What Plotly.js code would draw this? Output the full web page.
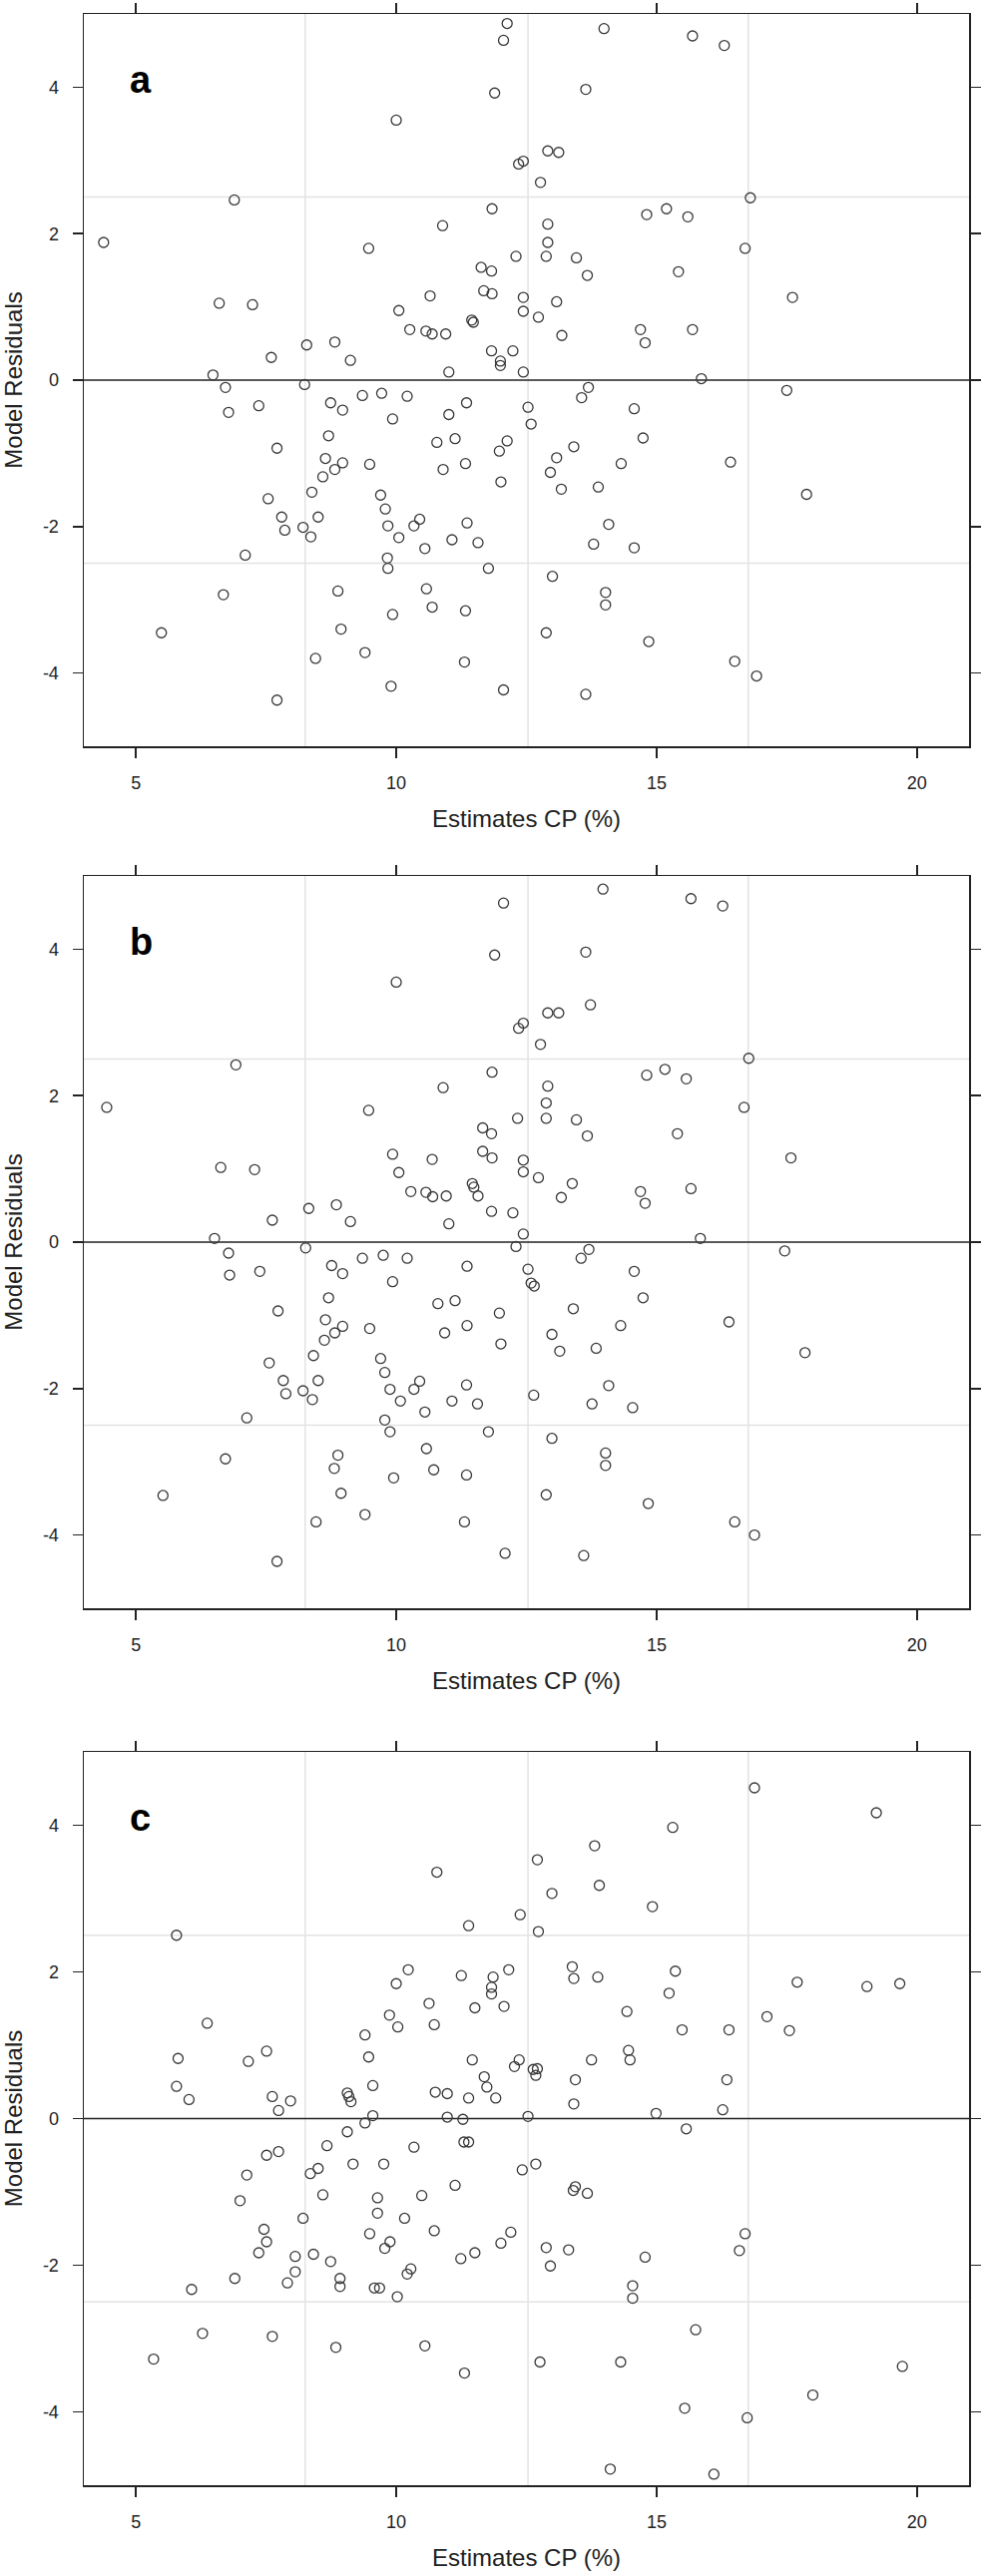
<!DOCTYPE html>
<html><head><meta charset="utf-8">
<script src="https://cdn.plot.ly/plotly-3.0.1.min.js"></script>
<style>html,body{margin:0;padding:0;background:#fff}</style>
</head><body>
<div id="chart" style="width:986px;height:2582px"></div>
<script>
// ---- data ----
const panelLetters = ['a', 'b', 'c'];
const xTitle = 'Estimates CP (%)';
const yTitle = 'Model Residuals';
const xTickVals = [5, 10, 15, 20];
const yTickVals = [-4, -2, 0, 2, 4];
const yTickText = ['-4', '-2', '0', '2', '4'];
const gridX = [8.25, 12.53, 16.76];
const gridY = [-2.5, 2.5];
const refLineY = 0;

// [estimate CP %, residual]
const panelA = [
[4.38,1.88],[6.89,2.46],[6.60,1.05],[7.24,1.03],[7.60,0.31],[6.48,0.07],[6.72,-0.10],[6.78,-0.44],[7.36,-0.35],[8.28,0.48],
[8.24,-0.06],[8.82,0.52],[9.12,0.27],[8.74,-0.31],[8.97,-0.41],[9.35,-0.21],[9.72,-0.18],[9.93,-0.53],[10.21,-0.22],[9.47,1.80],
[10.0,3.55],[10.05,0.95],[10.26,0.69],[10.57,0.67],[10.69,0.63],[10.95,0.63],[10.65,1.15],[10.89,2.11],[11.01,0.11],[11.01,-0.47],
[11.35,-0.31],[11.45,0.82],[11.48,0.79],[11.63,1.54],[11.68,1.22],
[12.13,4.87],[12.06,4.64],[11.89,3.92],[13.99,4.80],[15.69,4.70],[16.30,4.57],[13.64,3.97],[12.91,3.13],[13.12,3.11],[12.35,2.95],
[12.44,2.99],[12.77,2.70],[11.84,2.34],[14.81,2.26],[15.19,2.34],[15.60,2.23],[16.80,2.49],[12.91,2.13],[12.91,1.88],[12.30,1.69],
[12.88,1.69],[13.46,1.67],[16.70,1.80],[11.83,1.49],[13.67,1.43],[15.42,1.48],[11.84,1.18],[12.44,1.13],[12.44,0.94],[13.08,1.07],
[12.73,0.86],[17.61,1.13],[13.18,0.61],[14.69,0.69],[14.78,0.51],[15.69,0.69],[11.83,0.40],[12.24,0.40],[12.0,0.26],[12.0,0.20],
[12.44,0.11],[15.86,0.02],[13.69,-0.10],[13.56,-0.24],[17.50,-0.14],[12.53,-0.37],[14.57,-0.39],[12.59,-0.60],
[12.13,-0.83],[11.98,-0.97],[12.01,-1.39],[13.41,-0.91],[13.08,-1.06],[12.96,-1.26],[13.17,-1.49],[13.88,-1.46],[14.32,-1.14],[14.74,-0.79],
[16.42,-1.12],[17.88,-1.56],[14.08,-1.97],[13.79,-2.24],[14.57,-2.29],[13.00,-2.68],[14.02,-2.90],[14.02,-3.07],[12.88,-3.45],[14.85,-3.57],
[16.50,-3.84],[16.92,-4.04],[12.06,-4.23],[13.64,-4.29],
[7.71,-0.93],[8.70,-0.76],[8.64,-1.07],[8.97,-1.13],[8.82,-1.22],[8.59,-1.32],[9.49,-1.15],[8.38,-1.53],[7.54,-1.62],[7.80,-1.87],
[8.50,-1.87],[7.86,-2.05],[8.21,-2.01],[8.36,-2.14],[7.10,-2.39],[9.70,-1.57],[9.79,-1.76],[9.84,-1.99],[10.05,-2.15],[10.34,-1.99],
[10.45,-1.90],[10.55,-2.30],[9.83,-2.43],[9.84,-2.57],[10.78,-0.85],[11.13,-0.80],[10.90,-1.22],[11.33,-1.14],[11.36,-1.95],[11.07,-2.18],
[11.57,-2.22],[11.77,-2.57],[8.88,-2.88],[10.58,-2.85],[10.69,-3.10],[9.93,-3.20],[11.33,-3.15],[6.68,-2.93],[5.49,-3.45],[8.94,-3.40],
[9.40,-3.72],[8.45,-3.80],[11.31,-3.85],[9.90,-4.18],[7.71,-4.37]
];

const panelB = [
[4.44,1.84],[6.92,2.42],[6.63,1.02],[7.28,0.99],[7.62,0.30],[6.51,0.05],[6.78,-0.15],[6.80,-0.45],[7.38,-0.40],[8.32,0.46],
[8.26,-0.08],[8.85,0.51],[9.12,0.28],[8.76,-0.32],[8.97,-0.43],[9.35,-0.22],[9.75,-0.18],[9.93,-0.54],[10.21,-0.22],[9.47,1.80],
[10.0,3.55],[9.93,1.20],[10.05,0.95],[10.28,0.69],[10.57,0.68],[10.70,0.62],[10.96,0.63],[10.69,1.13],[10.90,2.11],[11.01,0.25],
[11.36,-0.33],[11.46,0.80],[11.49,0.75],[11.57,0.63],[11.66,1.56],[11.66,1.24],
[12.06,4.63],[11.89,3.92],[13.97,4.82],[15.66,4.69],[16.27,4.59],[13.64,3.96],[13.73,3.24],[12.91,3.13],[13.12,3.13],[12.35,2.92],
[12.44,2.99],[12.77,2.70],[11.84,2.32],[14.81,2.28],[15.16,2.36],[15.57,2.23],[16.77,2.51],[12.91,2.13],[12.88,1.90],[12.33,1.69],
[12.88,1.69],[13.46,1.67],[16.68,1.84],[11.83,1.48],[13.67,1.45],[15.40,1.48],[11.84,1.15],[12.44,1.12],[12.44,0.96],[12.73,0.88],
[13.38,0.80],[17.58,1.15],[13.17,0.61],[14.69,0.69],[14.78,0.53],[15.66,0.73],[11.83,0.42],[12.24,0.40],[12.44,0.11],[12.30,-0.06],
[15.84,0.05],[13.70,-0.10],[13.55,-0.22],[17.46,-0.12],[12.53,-0.37],[14.57,-0.40],[12.59,-0.56],[12.65,-0.60],
[14.74,-0.76],[13.40,-0.91],[11.98,-0.97],[14.31,-1.14],[16.39,-1.09],[12.99,-1.26],[12.01,-1.39],[13.14,-1.49],[13.84,-1.45],[17.85,-1.51],
[14.08,-1.96],[12.64,-2.09],[13.76,-2.21],[14.54,-2.26],[12.99,-2.68],[14.02,-2.88],[14.02,-3.05],[12.88,-3.45],[14.84,-3.57],[16.50,-3.82],
[16.88,-4.00],[12.09,-4.25],[13.60,-4.28],
[7.73,-0.94],[8.70,-0.76],[8.64,-1.06],[8.97,-1.15],[8.82,-1.24],[8.62,-1.34],[9.49,-1.18],[8.41,-1.55],[7.56,-1.65],[7.83,-1.89],
[8.50,-1.89],[7.88,-2.07],[8.21,-2.03],[8.39,-2.15],[7.13,-2.40],[9.70,-1.59],[9.78,-1.78],[9.88,-2.01],[10.08,-2.17],[10.34,-2.01],
[10.45,-1.90],[10.55,-2.32],[9.78,-2.43],[9.88,-2.59],[10.80,-0.84],[11.13,-0.80],[10.93,-1.24],[11.36,-1.14],[11.35,-1.95],[11.07,-2.17],
[11.56,-2.21],[11.77,-2.59],[8.88,-2.91],[8.81,-3.09],[10.58,-2.82],[10.72,-3.11],[9.95,-3.22],[11.35,-3.18],[6.72,-2.96],[5.52,-3.46],
[8.94,-3.43],[9.40,-3.72],[8.46,-3.82],[11.31,-3.82],[7.71,-4.36]
];

const panelC = [
[5.78,2.50],[6.37,1.30],[5.81,0.82],[5.78,0.44],[6.02,0.26],[7.16,0.78],[7.51,0.92],[7.62,0.30],[7.97,0.24],[7.74,0.11],
[9.06,0.35],[9.09,0.30],[9.13,0.23],[9.40,1.14],[9.47,0.84],[9.55,0.45],[9.55,0.04],[9.40,-0.06],[9.06,-0.18],[9.87,1.41],
[10.03,1.25],[10.0,1.84],[10.23,2.03],[10.78,3.36],[10.63,1.57],[10.73,1.28],[10.75,0.36],[10.98,0.34],[10.98,0.02],[11.28,-0.01],
[11.25,1.95],[11.39,2.63],[11.51,1.51],[11.46,0.80],[11.39,0.28],[11.69,0.57],[11.74,0.43],[11.91,0.28],[11.86,1.93],[11.83,1.79],
[11.83,1.70],[12.07,1.53],[12.16,2.03],[12.38,2.78],[12.36,0.80],[12.27,0.71],[12.53,0.03],
[16.88,4.51],[19.22,4.17],[15.31,3.97],[13.81,3.72],[12.71,3.53],[13.90,3.18],[12.99,3.07],[14.92,2.89],[12.73,2.55],[13.38,2.07],
[13.41,1.91],[13.87,1.93],[15.36,2.01],[15.24,1.71],[14.43,1.46],[17.70,1.86],[19.04,1.80],[19.67,1.84],[17.12,1.39],[15.49,1.21],
[16.39,1.21],[17.55,1.20],[14.46,0.93],[14.49,0.80],[13.75,0.80],[12.63,0.67],[12.71,0.68],[12.68,0.59],[13.44,0.53],[16.35,0.53],
[13.41,0.20],[14.99,0.07],[16.27,0.12],[15.57,-0.14],
[8.67,-0.37],[10.34,-0.39],[11.30,-0.32],[11.39,-0.32],[7.51,-0.50],[7.74,-0.45],[7.13,-0.77],[7.00,-1.12],[8.35,-0.75],[8.50,-0.68],
[9.17,-0.62],[9.76,-0.62],[8.59,-1.04],[9.64,-1.08],[9.64,-1.29],[10.49,-1.05],[11.13,-0.91],[12.42,-0.70],[8.21,-1.36],[7.46,-1.51],
[7.51,-1.68],[7.36,-1.83],[8.06,-1.88],[8.06,-2.09],[7.91,-2.24],[8.41,-1.85],[8.74,-1.95],[8.92,-2.18],[8.92,-2.29],[9.49,-1.57],
[9.88,-1.68],[9.78,-1.77],[10.16,-1.36],[10.73,-1.53],[10.28,-2.05],[10.21,-2.12],[9.58,-2.31],[9.68,-2.31],[10.02,-2.43],[11.24,-1.91],
[11.51,-1.83],[12.01,-1.70],[12.20,-1.55],[6.90,-2.18],[6.07,-2.33],[6.28,-2.93],[5.34,-3.28],[7.62,-2.97],[8.84,-3.12],[10.55,-3.10],
[11.31,-3.47],
[12.68,-0.62],[13.44,-0.93],[13.40,-0.98],[13.67,-1.02],[12.88,-1.76],[13.31,-1.79],[12.96,-2.01],[14.78,-1.89],[16.70,-1.57],[16.59,-1.80],
[14.54,-2.28],[14.54,-2.45],[15.75,-2.88],[12.76,-3.32],[14.31,-3.32],[19.72,-3.38],[18.0,-3.77],[15.54,-3.95],[16.74,-4.08],[14.11,-4.78],
[16.10,-4.85]
];

// ---- chart ----
const panels = [panelA, panelB, panelC];
const FONT = 'Liberation Sans, Arial, Helvetica, sans-serif';
const INK = '#222222';
const H = 2582, W = 986;
const mT = 14, mB = 91, mL = 84, mR = 15;
const plotH = H - mT - mB;
// panel pixel extents (top, bottom) in page coords
const panelPix = [[14, 748], [878, 1612], [1756, 2491]];
const domains = panelPix.map(([t, b]) => [(H - mB - b) / plotH, (H - mB - t) / plotH]);

const traces = panels.map((pts, i) => ({
  type: 'scatter', mode: 'markers',
  x: pts.map(p => p[0]), y: pts.map(p => p[1]),
  xaxis: i === 0 ? 'x' : 'x' + (i + 1),
  yaxis: i === 0 ? 'y' : 'y' + (i + 1),
  marker: {symbol: 'circle-open', size: 10, color: '#383838', line: {width: 1.3, color: '#383838'}},
  hoverinfo: 'x+y', showlegend: false
}));

const layout = {
  width: W, height: H,
  margin: {l: mL, r: mR, t: mT, b: mB},
  paper_bgcolor: '#ffffff', plot_bgcolor: '#ffffff',
  font: {family: FONT, color: INK},
  showlegend: false,
  shapes: [], annotations: []
};

panels.forEach((_, i) => {
  const sx = i === 0 ? '' : String(i + 1);
  layout['xaxis' + sx] = {
    domain: [0, 1], range: [4, 21], anchor: 'y' + sx,
    tickmode: 'array', tickvals: xTickVals, ticktext: xTickVals.map(String),
    ticks: 'outside', ticklen: 10, tickwidth: 1.5, tickcolor: INK,
    showline: true, linecolor: INK, linewidth: 1.5, mirror: 'ticks',
    showgrid: false, zeroline: false,
    tickfont: {family: FONT, size: 18, color: INK},
    ticklabelstandoff: 10,
    title: {text: xTitle, font: {family: FONT, size: 24, color: INK}, standoff: 18}
  };
  layout['yaxis' + sx] = {
    domain: domains[i], range: [-5, 5], anchor: 'x' + sx,
    tickmode: 'array', tickvals: yTickVals, ticktext: yTickText,
    ticks: 'outside', ticklen: 10, tickwidth: 1.5, tickcolor: INK,
    showline: true, linecolor: INK, linewidth: 1.5, mirror: 'ticks',
    showgrid: false, zeroline: false,
    tickfont: {family: FONT, size: 18, color: INK},
    ticklabelstandoff: 10,
    title: {text: yTitle, font: {family: FONT, size: 24, color: INK}, standoff: 18}
  };
  const xr = 'x' + sx, yr = 'y' + sx;
  gridX.forEach(gx => layout.shapes.push({
    type: 'line', layer: 'below', xref: xr, yref: yr + ' domain',
    x0: gx, x1: gx, y0: 0, y1: 1, line: {color: '#e3e3e3', width: 1.5}
  }));
  gridY.forEach(gy => layout.shapes.push({
    type: 'line', layer: 'below', xref: xr + ' domain', yref: yr,
    x0: 0, x1: 1, y0: gy, y1: gy, line: {color: '#e3e3e3', width: 1.5}
  }));
  layout.shapes.push({
    type: 'line', layer: 'below', xref: xr + ' domain', yref: yr,
    x0: 0, x1: 1, y0: refLineY, y1: refLineY, line: {color: INK, width: 1.6}
  });
  layout.annotations.push({
    text: '<b>' + panelLetters[i] + '</b>', showarrow: false,
    xref: xr + ' domain', yref: yr + ' domain',
    x: 0.05, y: 0.91, xanchor: 'left', yanchor: 'middle',
    font: {family: FONT, size: 38, color: '#000000'}
  });
});

Plotly.newPlot('chart', traces, layout, {displayModeBar: false, staticPlot: true});
</script>
</body></html>
